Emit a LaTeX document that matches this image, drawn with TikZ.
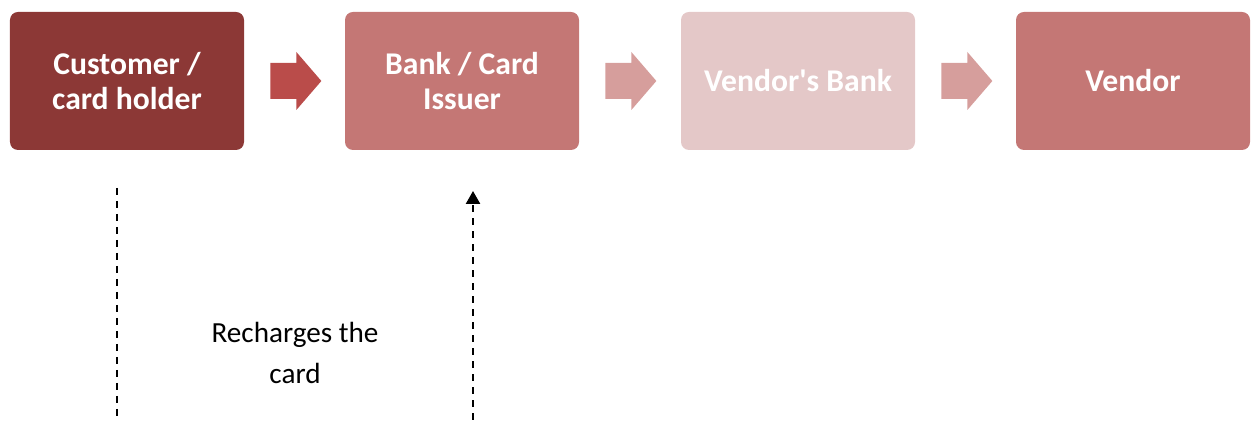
\documentclass[tikz,border=0pt]{standalone}
\usepackage{fontspec}
\setmainfont{Carlito}
\usepackage{xcolor}
\usepackage{tikz}
\usetikzlibrary{positioning,calc,arrows.meta}

\definecolor{custred}{HTML}{8C3836}
\definecolor{midred}{HTML}{C47775}
\definecolor{palered}{HTML}{E4C8C8}
\definecolor{arrowdark}{HTML}{BA4C4A}
\definecolor{arrowlight}{HTML}{D69E9C}

\tikzset{
    partybox/.style={rounded corners=0.16cm, minimum width=4.68cm, minimum height=2.76cm,
        align=center, text=white, inner sep=0pt,
        font=\fontsize{18}{19.5}\selectfont\bfseries},
    flowline/.style={line width=1.4pt, dash pattern=on 0.14cm off 0.12cm}
}

\begin{document}
\begin{tikzpicture}
    \useasboundingbox (0,0) rectangle (25.12,8.44);
    % the four parties
    \node[partybox, fill=custred] (cust) at (2.54,6.82) {Customer /\\card holder};
    \node[partybox, fill=midred] (bank) at (9.24,6.82) {Bank / Card\\Issuer};
    \node[partybox, fill=palered] (vbank) at (15.96,6.82) {Vendor\textquotesingle s Bank};
    \node[partybox, fill=midred] (vendor) at (22.66,6.82) {Vendor};

    % block arrows between them
    \foreach \a/\c in {cust/arrowdark, bank/arrowlight, vbank/arrowlight} {
        \fill[\c] ($(\a.east)+(0.52,0.36)$) -- ++(0.52,0) -- ++(0,0.22) -- ++(0.5,-0.58)
            -- ++(-0.5,-0.58) -- ++(0,0.22) -- ++(-0.52,0) -- cycle;
    }

    % recharge flow
    \coordinate (top1) at (2.34,4.68);
    \coordinate (bot1) at (2.34,0.04);
    \coordinate (top2) at (9.46,4.62);
    \coordinate (bot2) at (9.46,0.04);
    \draw[flowline] (top1) -- (bot1);
    \draw[flowline, -{Triangle[length=0.26cm, width=0.28cm]}] (bot2) -- (top2);
    \node[align=center, font=\fontsize{16.6}{23.8}\selectfont] (recharge) at (5.90,1.38) {Recharges the\\card};
\end{tikzpicture}
\end{document}
